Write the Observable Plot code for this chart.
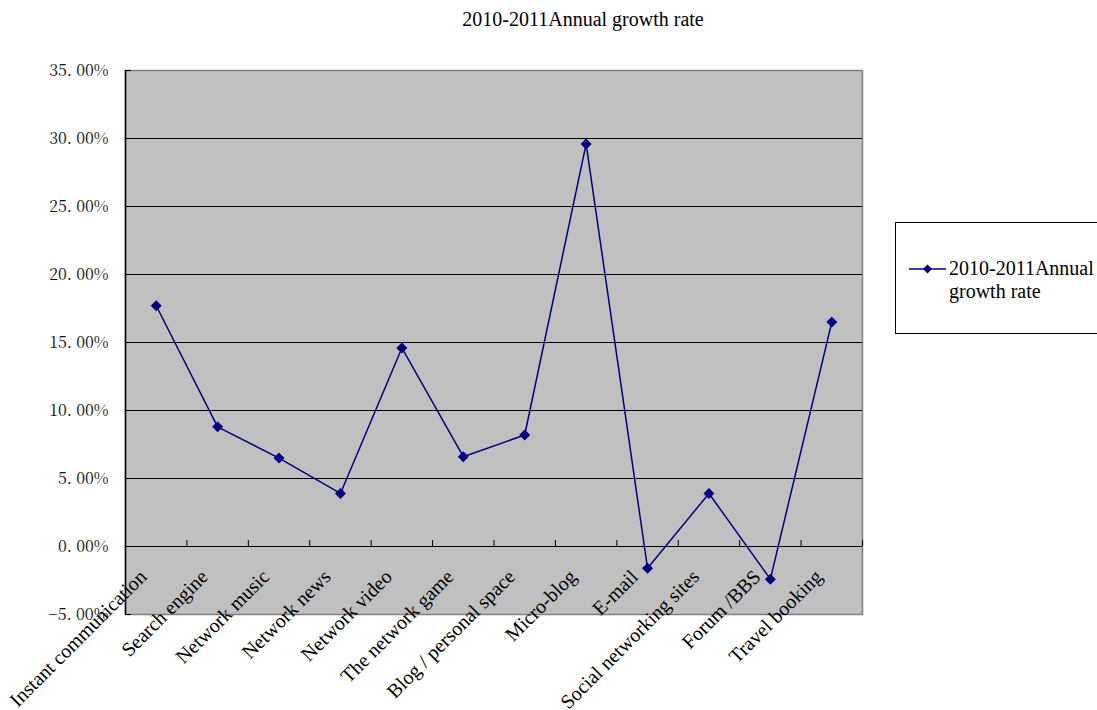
<!DOCTYPE html>
<html>
<head>
<meta charset="utf-8">
<script src="https://cdn.jsdelivr.net/npm/d3@7"></script>
<script src="https://cdn.jsdelivr.net/npm/@observablehq/plot@0.6"></script>
<style>
  html, body { margin: 0; padding: 0; background: white; overflow: hidden; }
  #wrap { position: relative; width: 1097px; height: 710px; overflow: hidden; }
  #title { position: absolute; top: 8px; left: 583px; transform: translateX(-50%); white-space: nowrap;
           font-family: "Liberation Serif", "Times New Roman", serif; font-size: 20px; color: #000; }
  #legend { position: absolute; left: 895px; top: 222px; width: 230px; height: 110px; border: 1px solid #000;
            background: white; font-family: "Liberation Serif", "Times New Roman", serif; font-size: 20px; line-height: 23px; }
  #legend svg { position: absolute; left: 12px; top: 40px; }
  #legend .txt { position: absolute; left: 53px; top: 34px; }
</style>
</head>
<body>
<div id="wrap">
  <div id="chart"></div>
  <div id="title"></div>
  <div id="legend"></div>
</div>
<script>
const titleText = "2010-2011Annual growth rate";
const seriesName = "2010-2011Annual growth rate";
const categories = [
  "Instant communication", "Search engine", "Network music", "Network news",
  "Network video", "The network game", "Blog / personal space", "Micro-blog",
  "E-mail", "Social networking sites", "Forum /BBS", "Travel booking"
];
const growth = [17.7, 8.8, 6.5, 3.9, 14.6, 6.6, 8.2, 29.6, -1.6, 3.9, -2.4, 16.5];
const yTicks = [-5, 0, 5, 10, 15, 20, 25, 30, 35];
const yGrid = [0, 5, 10, 15, 20, 25, 30];

const data = categories.map((c, i) => ({category: c, idx: i + 0.5, value: growth[i]}));
const boundaries = d3.range(1, categories.length + 1);
const fmt = d => (d < 0 ? "\u2212" : "") + Math.abs(d).toFixed(2).replace(".", ". ") + "%";

const navy = "#000080";
const serif = "'Liberation Serif', 'Times New Roman', serif";
const cjkSerif = "'Noto Serif CJK SC', 'Liberation Serif', serif";

const chart = Plot.plot({
  width: 1097,
  height: 710,
  marginLeft: 125,
  marginRight: 235,
  marginTop: 70,
  marginBottom: 96,
  x: {type: "linear", domain: [0, categories.length], axis: null},
  y: {domain: [-5, 35], axis: null},
  style: {fontFamily: serif, fontSize: "20px", background: "transparent", color: "black", overflow: "visible"},
  marks: [
    Plot.frame({fill: "#C0C0C0", stroke: "#808080", strokeWidth: 1.5}),
    Plot.ruleY(yGrid, {stroke: "black", strokeWidth: 1}),
    Plot.ruleX([0], {stroke: "black", strokeWidth: 1.5}),
    Plot.ruleX(boundaries, {y1: 0, y2: 0, insetTop: -6, stroke: "black"}),
    Plot.ruleY(yTicks, {x1: 0, x2: 0, insetRight: -6, stroke: "black"}),
    Plot.text(yTicks, {x: 0, y: d => d, text: fmt, textAnchor: "end", dx: -17, fontSize: 16, fill: "#111", fontFamily: cjkSerif}),
    Plot.line(data, {x: "idx", y: "value", stroke: navy, strokeWidth: 1.5}),
    Plot.dot(data, {x: "idx", y: "value", symbol: "diamond2", r: 4, fill: navy, stroke: navy}),
    Plot.text(data, {x: "idx", y: 0, text: "category", rotate: -45, textAnchor: "end", dx: -13, dy: 27, fill: "black", fontFamily: serif})
  ]
});
document.getElementById("chart").appendChild(chart);

document.getElementById("title").textContent = titleText;

const lg = document.getElementById("legend");
const words = seriesName.split("Annual ");
lg.innerHTML = `<svg width="40" height="12"><line x1="1" x2="38" y1="6" y2="6" stroke="${navy}" stroke-width="1.5"/>
  <path d="M19.5,1.5 L24,6 L19.5,10.5 L15,6 Z" fill="${navy}"/></svg>
  <div class="txt">${words[0]}Annual<br>${words[1]}</div>`;
</script>
</body>
</html>
